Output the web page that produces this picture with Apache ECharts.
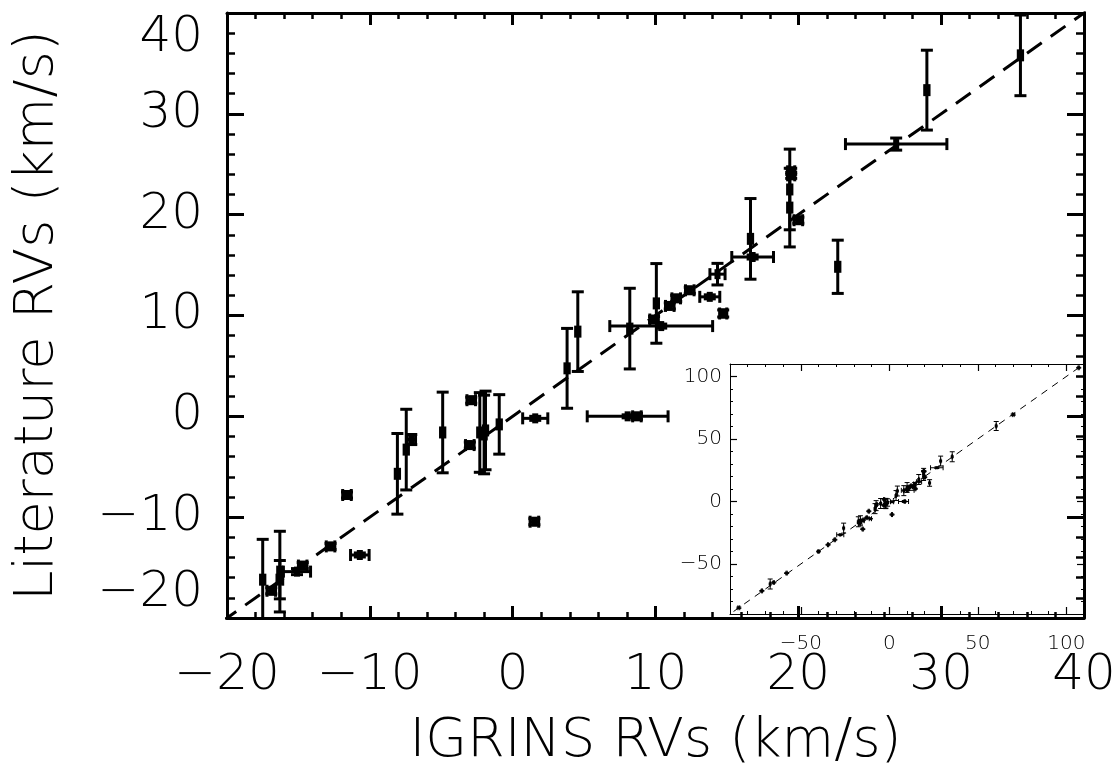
<!DOCTYPE html>
<html>
<head>
<meta charset="utf-8">
<title>IGRINS vs literature RVs</title>
<script src="https://cdn.jsdelivr.net/npm/echarts@6/dist/echarts.min.js"></script>
<style>
  html, body { margin: 0; padding: 0; background: #fff; }
  #chart { width: 1120px; height: 771px; }
</style>
</head>
<body>
<div id="chart"></div>
<script>
// IGRINS RV (x) and literature RV (y), km/s, with 1-sigma errors
const igrinsRv = [-17.5, -16.9, -16.3, -16.3, -15.1, -14.7, -12.75, -11.6, -10.7, -8.07,
  -7.45, -7.1, -4.9, -2.9, -2.3, -2.0, -1.9, -3.0, -0.94, 1.58,
  1.52, 3.81, 4.56, 8.05, 8.7, 8.2, 10.06, 10.4, 9.9, 11.0,
  11.45, 12.4, 13.8, 14.74, 14.34, 16.65, 16.8, 19.4, 19.4, 19.5,
  19.5, 20.0, 22.76, 26.85, 29.0, 35.55,
  -85, -72, -67.3, -65.3, -58, -40, -34.6, -30.8, -27.7, -25.8, -15.0, 60.4, 70, 107]
const igrinsErr = [0.15, 0.3, 0.15, 0.2, 0.95, 0.3, 0.3, 0.3, 0.65, 0.15,
  0.15, 0.3, 0.15, 0.3, 0.15, 0.15, 0.15, 0.3, 0.15, 0.88,
  0.3, 0.15, 0.15, 2.83, 0.3, 0.15, 0.15, 3.6, 0.3, 0.3,
  0.3, 0.3, 0.7, 0.25, 0.53, 0.15, 1.46, 0.15, 0.15, 0.25,
  0.25, 0.3, 0.15, 3.55, 0.15, 0.15,
  0.5, 0.3, 0.15, 0.3, 0.3, 0.3, 0.3, 0.3, 2.0, 0.15, 0.3, 0.15, 0.5, 0.3]
const litRv = [-16.2, -17.3, -15.4, -16.2, -15.4, -14.8, -12.9, -7.8, -13.75, -5.7,
  -3.3, -2.3, -1.6, 1.6, -1.6, -1.8, -1.4, -2.85, -0.8, -0.2,
  -10.45, 4.76, 8.4, 0.0, 0.0, 8.7, 11.2, 8.95, 9.6, 10.95,
  11.7, 12.5, 11.85, 10.2, 14.1, 17.6, 15.8, 22.5, 20.7, 24.3,
  23.9, 19.45, 14.83, 27.0, 32.35, 35.8,
  -85, -71.5, -66, -64.8, -57.3, -40, -34.6, -30.6, -26.6, -21.3, -22.1, 60.4, 69.5, 107]
const litErr = [4.0, 0.3, 4.0, 1.9, 0.3, 0.3, 0.3, 0.3, 0.2, 4.0,
  4.0, 0.5, 4.0, 0.3, 3.95, 3.9, 3.9, 0.3, 2.95, 0.2,
  0.3, 3.96, 3.95, 0.15, 0.3, 4.0, 3.95, 0.2, 0.3, 0.3,
  0.3, 0.3, 0.2, 0.35, 1.07, 4.0, 0.2, 4.0, 3.9, 0.3,
  0.3, 0.3, 2.64, 0.6, 3.96, 4.0,
  0.5, 0.3, 4.0, 0.3, 0.3, 0.3, 0.3, 0.3, 0.3, 4.0, 0.3, 3.6, 0.5, 0.3]

const oneToOne = [-100, 120]
const insetTicks = [-50, 0, 50, 100]

const FONT = 'DejaVu Sans'
const points = igrinsRv.map((x, i) => [x, igrinsErr[i], litRv[i], litErr[i]])
const minus = v => (v < 0 ? '\u2212' : '') + Math.abs(v)

function errRender(cap, mw, mh, lw) {
  return function(params, api) {
    const x = api.value(0)
    const xe = api.value(1)
    const y = api.value(2)
    const ye = api.value(3)
    const c = api.coord([x, y])
    const l = api.coord([x - xe, y])
    const r = api.coord([x + xe, y])
    const t = api.coord([x, y + ye])
    const b = api.coord([x, y - ye])
    const st = { stroke: '#000', lineWidth: lw }
    const seg = (x1, y1, x2, y2) => ({ type: 'line', shape: { x1, y1, x2, y2 }, style: st })
    return {
      type: 'group',
      children: [
        seg(l[0], l[1], r[0], r[1]),
        seg(l[0], l[1] - cap, l[0], l[1] + cap),
        seg(r[0], r[1] - cap, r[0], r[1] + cap),
        seg(t[0], t[1], b[0], b[1]),
        seg(t[0] - cap, t[1], t[0] + cap, t[1]),
        seg(b[0] - cap, b[1], b[0] + cap, b[1]),
        { type: 'rect', shape: { x: c[0] - mw / 2, y: c[1] - mh / 2, width: mw, height: mh }, style: { fill: '#000' } }
      ]
    }
  }
}

function axisBase(grid, pos, min, max, o) {
  return Object.assign({
    type: 'value', gridIndex: grid, position: pos, min: min, max: max,
    splitLine: { show: false },
    axisLine: { onZero: false, lineStyle: { color: '#000', width: 3 } }
  }, o)
}

const bigLabel = { fontSize: 50, color: '#000', fontFamily: FONT, fontWeight: 200 }
const nameLabel = { fontSize: 54, color: '#000', fontFamily: FONT, fontWeight: 200 }
const smallLabel = { fontSize: 20, color: '#000', fontFamily: FONT, fontWeight: 200 }

const insetLabel = v => insetTicks.includes(v) ? minus(v) : ''

const mainTickX = { inside: true, length: 12, lineStyle: { color: '#000', width: 3 } }
const mainMinorX = { show: true, splitNumber: 5, length: 6, lineStyle: { color: '#000', width: 2.5 } }
const mainTickY = { inside: true, length: 17, lineStyle: { color: '#000', width: 3 } }
const mainMinorY = { show: true, splitNumber: 5, length: 8, lineStyle: { color: '#000', width: 2.5 } }
const insetLine = { onZero: false, lineStyle: { color: '#000', width: 1 } }
const noLine = { show: false, onZero: false }
const insetMinor = { inside: true, length: 3, lineStyle: { color: '#000', width: 1 } }
const insetMajor = { inside: true, length: 7, customValues: insetTicks, lineStyle: { color: '#000', width: 1.2 } }

const chart = echarts.init(document.getElementById('chart'))
chart.setOption({
  animation: false,
  backgroundColor: '#fff',
  grid: [
    { left: 227, top: 13, width: 857, height: 605, show: false, outerBoundsMode: 'none' },
    { left: 730, top: 364, width: 354, height: 250, show: true, backgroundColor: '#fff', borderWidth: 0, outerBoundsMode: 'none' },
    { left: 730, top: 364, width: 354, height: 250, show: false, outerBoundsMode: 'none' }
  ],
  xAxis: [
    axisBase(0, 'bottom', -20, 40, {
      interval: 10, axisTick: mainTickX, minorTick: mainMinorX,
      axisLabel: Object.assign({ margin: 33, formatter: minus }, bigLabel),
      name: 'IGRINS RVs (km/s)', nameLocation: 'middle', nameGap: 97, nameTextStyle: nameLabel
    }),
    axisBase(0, 'top', -20, 40, {
      interval: 10, axisTick: mainTickX, minorTick: mainMinorX, axisLabel: { show: false }
    }),
    axisBase(1, 'bottom', -90, 110, {
      interval: 10, axisLine: insetLine, axisTick: insetMinor,
      axisLabel: Object.assign({ margin: 20, formatter: insetLabel }, smallLabel)
    }),
    axisBase(1, 'top', -90, 110, {
      interval: 10, axisLine: insetLine, axisTick: insetMinor, axisLabel: { show: false }
    }),
    axisBase(2, 'bottom', -90, 110, {
      axisLine: noLine, axisTick: insetMajor, axisLabel: { show: false }
    }),
    axisBase(2, 'top', -90, 110, {
      axisLine: noLine, axisTick: insetMajor, axisLabel: { show: false }
    })
  ],
  yAxis: [
    axisBase(0, 'left', -20, 40, {
      interval: 10, axisTick: mainTickY, minorTick: mainMinorY,
      axisLabel: Object.assign({
        margin: 24, formatter: minus,
        verticalAlignMinLabel: 'bottom', verticalAlignMaxLabel: 'top'
      }, bigLabel),
      name: 'Literature RVs (km/s)', nameLocation: 'middle', nameGap: 162, nameTextStyle: nameLabel
    }),
    axisBase(0, 'right', -20, 40, {
      interval: 10, axisTick: mainTickY, minorTick: mainMinorY, axisLabel: { show: false }
    }),
    axisBase(1, 'left', -90, 110, {
      interval: 10, axisLine: insetLine, axisTick: insetMinor,
      axisLabel: Object.assign({ margin: 8, formatter: insetLabel }, smallLabel)
    }),
    axisBase(1, 'right', -90, 110, {
      interval: 10, axisLine: insetLine, axisTick: insetMinor, axisLabel: { show: false }
    }),
    axisBase(2, 'left', -90, 110, {
      axisLine: noLine, axisTick: insetMajor, axisLabel: { show: false }
    }),
    axisBase(2, 'right', -90, 110, {
      axisLine: noLine, axisTick: insetMajor, axisLabel: { show: false }
    })
  ],
  series: [
    {
      type: 'line', xAxisIndex: 0, yAxisIndex: 0, silent: true, symbol: 'none', clip: true,
      data: oneToOne.map(v => [v, v]),
      lineStyle: { color: '#000', width: 3, type: [18, 11] }
    },
    {
      type: 'custom', xAxisIndex: 0, yAxisIndex: 0, clip: true, silent: true,
      encode: { x: 0, y: 2 },
      renderItem: errRender(6, 6, 10, 3),
      data: points
    },
    {
      type: 'line', xAxisIndex: 2, yAxisIndex: 2, silent: true, symbol: 'none', clip: true,
      data: oneToOne.map(v => [v, v]),
      lineStyle: { color: '#000', width: 1, type: [7, 6] }
    },
    {
      type: 'custom', xAxisIndex: 2, yAxisIndex: 2, clip: true, silent: true,
      encode: { x: 0, y: 2 },
      renderItem: errRender(2.5, 3, 3, 1),
      data: points
    }
  ]
})
</script>
</body>
</html>
